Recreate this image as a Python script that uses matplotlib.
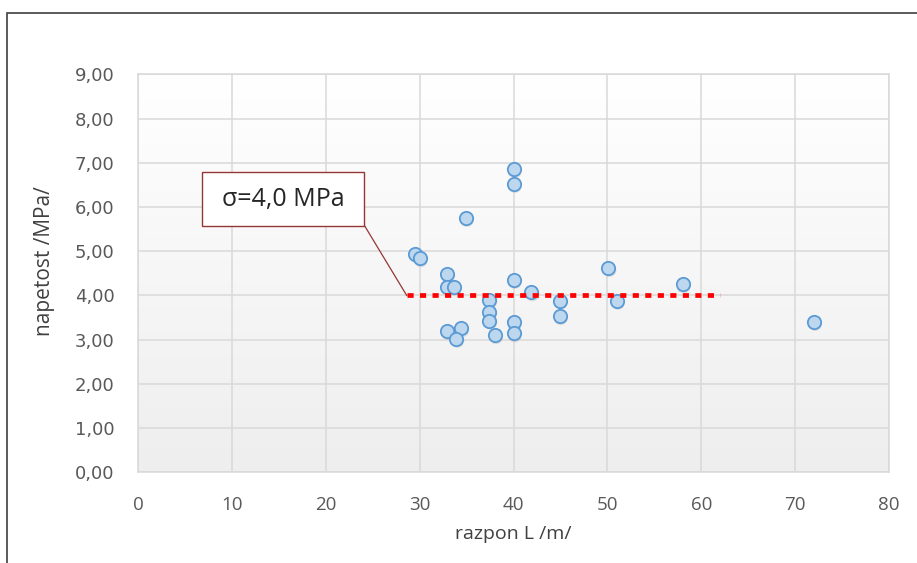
import numpy as np
import matplotlib
matplotlib.use("Agg")
import matplotlib.pyplot as plt
from matplotlib.patches import Rectangle
from matplotlib.ticker import FuncFormatter, MultipleLocator
from matplotlib.colors import LinearSegmentedColormap

# ---- data ----
span_L = [29.5, 30.0, 32.9, 32.9, 33.6, 32.9, 34.4, 33.9, 34.9,
          37.4, 37.4, 37.4, 38.0, 40.0, 40.0, 40.0, 40.0, 40.0,
          41.9, 44.9, 44.9, 50.1, 51.0, 58.0, 72.0]
stress = [4.93, 4.84, 4.49, 4.20, 4.20, 3.19, 3.26, 3.02, 5.75,
          3.90, 3.63, 3.43, 3.10, 6.85, 6.52, 4.35, 3.40, 3.14,
          4.07, 3.88, 3.53, 4.62, 3.88, 4.25, 3.40]
sigma_mean = 4.0
sigma_range = [28.6, 62.0]
sigma_label = "σ=4,0 MPa"
x_label = "razpon L /m/"
y_label = "napetost /MPa/"

W, H = 917, 563
fig = plt.figure(figsize=(W / 100, H / 100), dpi=100)
fig.patch.set_facecolor("white")

# plot area in pixels
L, R, T, B = 138.3, 889.0, 74.3, 472.3
ax = fig.add_axes([L / W, 1 - B / H, (R - L) / W, (B - T) / H])
ax.set_xlim(0, 80)
ax.set_ylim(0, 9)

# gradient background: white at top, light grey at bottom
grad = np.linspace(0, 1, 256).reshape(-1, 1)
cmap = LinearSegmentedColormap.from_list("bg", ["#ffffff", "#eeeeee"])
ax.imshow(grad, extent=[0, 1, 0, 1], origin="upper", transform=ax.transAxes,
          cmap=cmap, aspect="auto", zorder=0)

ax.xaxis.set_major_locator(MultipleLocator(10))
ax.yaxis.set_major_locator(MultipleLocator(1))
ax.yaxis.set_major_formatter(FuncFormatter(lambda v, p: f"{v:.2f}".replace(".", ",")))
ax.grid(True, color="#d9d9d9", lw=1.1, zorder=1)
for s in ax.spines.values():
    s.set_color("#d9d9d9")
    s.set_linewidth(1.1)
ax.tick_params(length=0, colors="#595959")
ax.tick_params(axis="y", pad=17)
ax.tick_params(axis="x", pad=17)
for lab in ax.get_yticklabels():
    lab.set_fontfamily("DejaVu Sans")
    lab.set_fontsize(13)
for lab in ax.get_xticklabels():
    lab.set_fontfamily("Open Sans")
    lab.set_fontsize(13.5)

ax.set_xlabel(x_label, fontsize=14, family="Open Sans", color="#404040", labelpad=8)
ax.set_ylabel(y_label, fontsize=15, family="Open Sans", color="#404040")
ax.yaxis.set_label_coords(-0.111, 0.531)

# shadow + markers
ax.scatter(np.array(span_L) + 0.12, np.array(stress) - 0.05, s=95, c="#bfbfbf",
           alpha=0.45, edgecolors="none", zorder=3)
ax.scatter(span_L, stress, s=92, c="#bdd7ee", edgecolors="#5b9bd5",
           linewidths=1.3, zorder=4)

# mean line
ax.plot(sigma_range, [sigma_mean, sigma_mean], color="#ff0000", lw=3.4,
        dashes=(1.3, 1.35), solid_capstyle="butt", dash_capstyle="butt", zorder=5)

# callout
bx0, bx1, by0, by1 = 6.76, 24.1, 5.58, 6.78
ax.add_patch(Rectangle((bx0, by0), bx1 - bx0, by1 - by0, facecolor="white",
                       edgecolor="#953735", lw=1.0, zorder=6))
ax.text((bx0 + bx1) / 2, (by0 + by1) / 2, sigma_label, ha="center", va="center",
        fontsize=18, family="Open Sans", color="#262626", zorder=7)
ax.plot([bx1, sigma_range[0]], [by0, sigma_mean], color="#953735", lw=0.9, zorder=5)

# outer chart border
fig.patches.append(Rectangle((7 / W, -0.05), 1.1, 1 - 13 / H + 0.05,
                             transform=fig.transFigure, fill=False,
                             edgecolor="#404040", lw=1.2))

fig.savefig("out.png", dpi=100)
